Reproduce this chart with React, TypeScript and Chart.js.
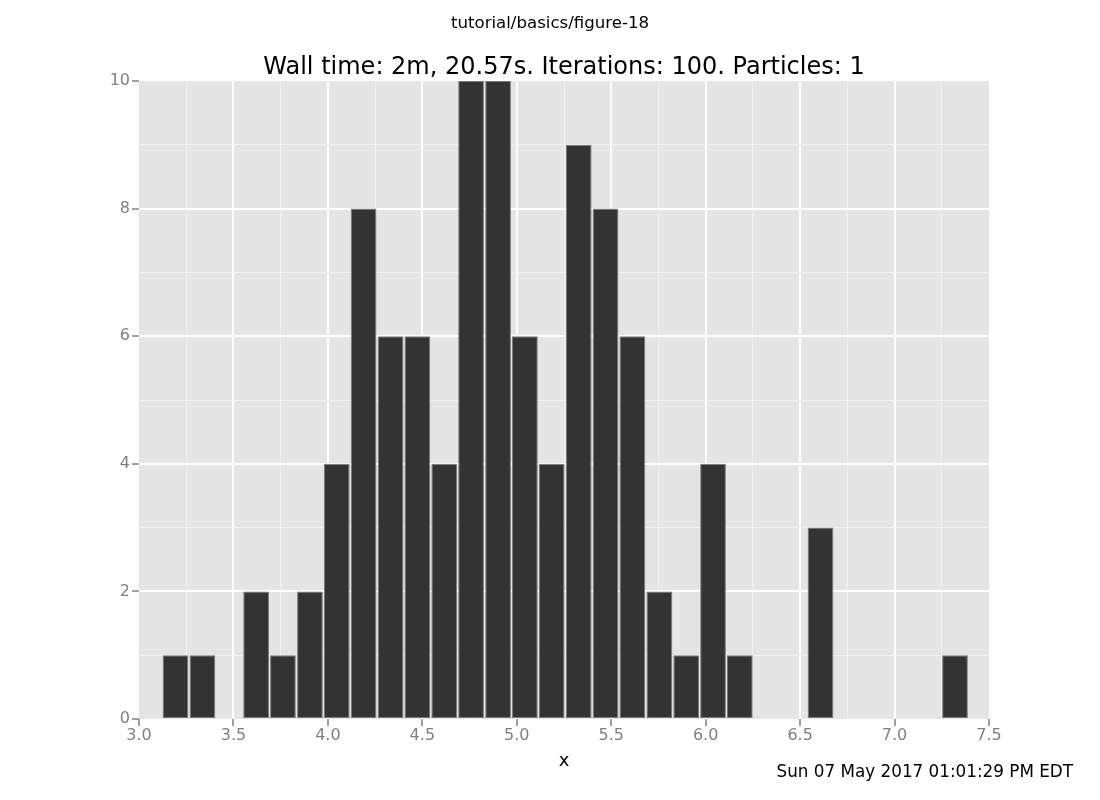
import React, { useEffect, useRef } from 'react';
import { Chart, registerables } from 'chart.js';

Chart.register(...registerables);

// Histogram bins (centres) and their counts
const binCenters = [
  3.193, 3.336, 3.478, 3.62, 3.762, 3.905, 4.047, 4.189, 4.332, 4.474,
  4.616, 4.758, 4.901, 5.043, 5.185, 5.328, 5.47, 5.612, 5.755, 5.897,
  6.039, 6.181, 6.324, 6.466, 6.608, 6.751, 6.893, 7.035, 7.177, 7.32,
];
const counts = [
  1, 1, 0, 2, 1, 2, 4, 8, 6, 6,
  4, 10, 10, 6, 4, 9, 8, 6, 2, 1,
  4, 1, 0, 0, 3, 0, 0, 0, 0, 1,
];

const xMin = 3.0;
const xMax = 7.5;
const yMin = 0;
const yMax = 10;

const figureTitle = 'tutorial/basics/figure-18';
const plotTitle = 'Wall time: 2m, 20.57s. Iterations: 100. Particles: 1';
const xLabel = 'x';
const timestamp = 'Sun 07 May 2017 01:01:29 PM EDT';

const FONT = "'DejaVu Sans', 'Noto Sans', sans-serif";

const isMult = (v: number, step: number) =>
  Math.abs(v / step - Math.round(v / step)) < 1e-6;

const panelPlugin = {
  id: 'panelPlugin',
  beforeDraw(chart: any) {
    const { ctx, chartArea: a } = chart;
    ctx.save();
    ctx.fillStyle = '#ffffff';
    ctx.fillRect(0, 0, chart.width, chart.height);
    ctx.fillStyle = '#e5e5e5';
    ctx.fillRect(a.left, a.top, a.right - a.left, a.bottom - a.top);
    ctx.restore();
  },
  afterDraw(chart: any) {
    const { ctx, chartArea: a } = chart;
    const cx = (a.left + a.right) / 2;
    ctx.save();
    ctx.fillStyle = '#000000';
    ctx.textBaseline = 'alphabetic';

    ctx.textAlign = 'center';
    ctx.font = `16.6px ${FONT}`;
    ctx.fillText(figureTitle, chart.width / 2, 28);

    ctx.font = `24px ${FONT}`;
    ctx.fillText(plotTitle, cx, 74);

    ctx.font = `18px ${FONT}`;
    ctx.fillText(xLabel, cx, 766);

    ctx.textAlign = 'right';
    ctx.font = `16.8px ${FONT}`;
    ctx.fillText(timestamp, 1073, 777);
    ctx.restore();
  },
};

export default function App() {
  const ref = useRef<HTMLCanvasElement | null>(null);

  useEffect(() => {
    if (!ref.current) return;
    const data = binCenters.map((x, i) => ({ x, y: counts[i] }));
    const chart = new Chart(ref.current, {
      type: 'bar',
      data: {
        datasets: [
          {
            data,
            backgroundColor: '#333333',
            borderColor: '#7a7a7a',
            borderWidth: (c: any) => (c.raw && c.raw.y > 0 ? 1 : 0),
            borderSkipped: false,
            barPercentage: 0.96,
            categoryPercentage: 1,
          } as any,
        ],
      },
      options: {
        animation: false,
        responsive: false,
        devicePixelRatio: 1,
        layout: { padding: { left: 0, top: 81, right: 111, bottom: 0 } },
        plugins: {
          legend: { display: false },
          tooltip: { enabled: false },
          title: { display: false },
        },
        scales: {
          x: {
            type: 'linear',
            min: xMin,
            max: xMax,
            offset: false,
            border: { display: false },
            grid: {
              offset: false,
              color: (c: any) => {
                const v = c.tick.value;
                if (Math.abs(v - xMin) < 1e-6 || Math.abs(v - xMax) < 1e-6) return 'rgba(0,0,0,0)';
                return isMult(v, 0.5) ? '#ffffff' : '#f2f2f2';
              },
              lineWidth: (c: any) => (isMult(c.tick.value, 0.5) ? 2 : 1),
              tickColor: (c: any) => (isMult(c.tick.value, 0.5) ? '#808080' : 'rgba(0,0,0,0)'),
              tickLength: 7,
              tickWidth: 1.5,
            },
            ticks: {
              stepSize: 0.25,
              autoSkip: false,
              maxRotation: 0,
              padding: 0,
              color: '#808080',
              font: { family: FONT, size: 16 },
              callback: (v: any) => (isMult(Number(v), 0.5) ? Number(v).toFixed(1) : ''),
            },
            afterFit: (s: any) => {
              s.height = 81;
            },
          },
          y: {
            type: 'linear',
            min: yMin,
            max: yMax,
            border: { display: false },
            grid: {
              color: (c: any) => {
                const v = c.tick.value;
                if (v === yMin || v === yMax) return 'rgba(0,0,0,0)';
                return isMult(v, 2) ? '#ffffff' : '#f2f2f2';
              },
              lineWidth: (c: any) => (isMult(c.tick.value, 2) ? 2 : 1),
              tickColor: (c: any) => (isMult(c.tick.value, 2) ? '#808080' : 'rgba(0,0,0,0)'),
              tickLength: 7,
              tickWidth: 1.5,
            },
            ticks: {
              stepSize: 1,
              autoSkip: false,
              padding: 2,
              color: '#808080',
              font: { family: FONT, size: 16 },
              callback: (v: any) => (isMult(Number(v), 2) ? String(v) : ''),
            },
            afterFit: (s: any) => {
              s.width = 139;
            },
          },
        },
      } as any,
      plugins: [panelPlugin],
    });
    return () => chart.destroy();
  }, []);

  return (
    <div style={{ position: 'absolute', left: 0, top: 0, width: 1100, height: 800 }}>
      <canvas ref={ref} width={1100} height={800} style={{ display: 'block' }} />
    </div>
  );
}
